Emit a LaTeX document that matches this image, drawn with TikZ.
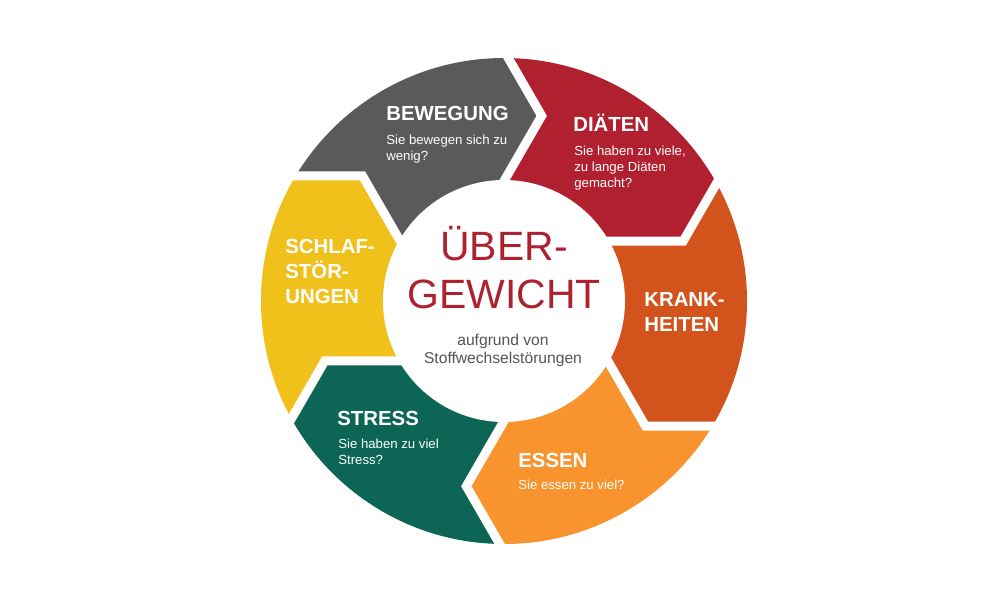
\documentclass[tikz,border=0pt]{standalone}
\usepackage{fontspec}
\setmainfont{Liberation Sans}
\usepackage{xcolor}
\definecolor{diaetred}{HTML}{B0202E}
\definecolor{bewegunggray}{HTML}{5A5A5A}
\definecolor{krankorange}{HTML}{D3531D}
\definecolor{essenorange}{HTML}{F8932D}
\definecolor{stressgreen}{HTML}{0D6555}
\definecolor{schlafyellow}{HTML}{F1C11B}
\definecolor{titlered}{HTML}{AE2230}
\definecolor{subgray}{HTML}{555555}
\usetikzlibrary{positioning}

\begin{document}
\begin{tikzpicture}[
  x=0.02cm, y=0.02cm,
  head/.style={font=\bfseries\fontsize{11.6}{14.2}\selectfont, text=white, anchor=base west, align=left, inner sep=0pt},
  sub/.style={font=\fontsize{7.5}{9.1}\selectfont, text=white, anchor=base west, align=left, inner sep=0pt},
  title/.style={font=\fontsize{23.3}{27.3}\selectfont, text=titlered, anchor=base, align=center, inner sep=0pt},
  note/.style={font=\fontsize{8.9}{9.7}\selectfont, text=subgray, anchor=base, align=center, inner sep=0pt},
  gap/.style={white, line width=0.18cm, line join=miter},
]
  \useasboundingbox (-504,301) rectangle (496,-299);

  % chevron points of the six borders
  \foreach \a [count=\k] in {90,30,-30,-90,-150,150} {
    \coordinate (V\k) at (\a-11.5:189);
    \coordinate (O\k) at ([shift={(\a+30:90)}]V\k);
    \coordinate (I\k) at ([shift={(\a+150:95)}]V\k);
  }

  % ring segments
  \foreach \s/\e/\m/\c in {1/2/60/diaetred, 2/3/0/krankorange, 3/4/-60/essenorange,
                           4/5/-120/stressgreen, 5/6/-180/schlafyellow, 6/1/120/bewegunggray} {
    \begin{scope}
      \clip (0,0) -- (I\s) -- (V\s) -- (O\s) -- (\m:330) -- (O\e) -- (V\e) -- (I\e) -- cycle;
      \fill[\c] (0,0) circle (243);
    \end{scope}
  }
  \fill[white] (0,0) circle (121);
  \foreach \k in {1,...,6}
    \draw[gap] (I\k) -- (V\k) -- (O\k);

  % texts (multi-line nodes sit on their last baseline)
  \node[head] (bewegung) at (-118,181) {BEWEGUNG};
  \node[sub] (bewegungtxt) at (-118,141) {Sie bewegen sich zu\\wenig?};
  \node[head] (diaeten) at (69,170) {DIÄTEN};
  \node[sub] (diaetentxt) at (70,114) {Sie haben zu viele,\\zu lange Diäten\\gemacht?};
  \node[head] (krank) at (140,-30) {KRANK-\\HEITEN};
  \node[head] (essen) at (14,-166) {ESSEN};
  \node[sub] (essentxt) at (14,-188) {Sie essen zu viel?};
  \node[head] (stress) at (-167,-124) {STRESS};
  \node[sub] (stresstxt) at (-166,-163) {Sie haben zu viel\\Stress?};
  \node[head] (schlaf) at (-219,-2) {SCHLAF-\\STÖR-\\UNGEN};

  \node[title] (ueber) at (0,-7) {ÜBER-\\GEWICHT};
  \node[note] (grund) at (-1,-62) {aufgrund von\\Stoffwechselstörungen};
\end{tikzpicture}
\end{document}
